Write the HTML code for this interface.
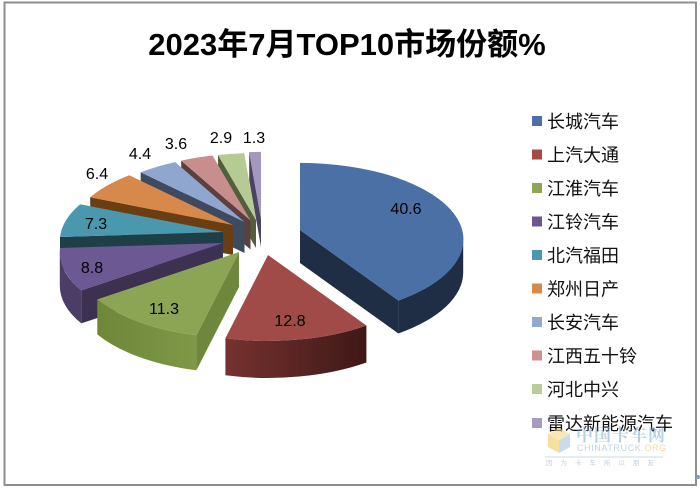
<!DOCTYPE html>
<html>
<head>
<meta charset="utf-8">
<style>
html,body{margin:0;padding:0;background:#fff;}
svg{display:block;}
.lbl{font-family:"Liberation Sans","Noto Sans CJK SC",sans-serif;font-size:16px;fill:#000;text-anchor:middle;}
.leg{font-family:"Liberation Sans","Noto Sans CJK SC",sans-serif;font-size:18px;fill:#111;}
</style>
</head>
<body>
<svg width="700" height="491" viewBox="0 0 700 491" xmlns="http://www.w3.org/2000/svg">
<defs>
<linearGradient id="gRed" x1="0" y1="0" x2="1" y2="0">
<stop offset="0" stop-color="#763230"/><stop offset="1" stop-color="#3E1816"/>
</linearGradient>
<linearGradient id="gGreen" x1="0" y1="0" x2="1" y2="0">
<stop offset="0" stop-color="#6E8739"/><stop offset="1" stop-color="#7E9848"/>
</linearGradient>
</defs>
<rect x="0" y="0" width="700" height="491" fill="#fff"/>
<rect x="4.5" y="2.5" width="691.5" height="482.5" fill="#fff" stroke="#8e8e8e" stroke-width="2"/>

<text x="347" y="55" font-family="'Liberation Sans','Noto Sans CJK SC',sans-serif" font-size="31" font-weight="bold" text-anchor="middle" fill="#000">2023年7月TOP10市场份额%</text>

<!-- lavender -->
<path d="M261,219 L249.2,152.1 L249.2,180.1 L261,247 Z" fill="#4A4361"/>
<path d="M261,219 L249.2,152.1 A163.3 76.5 0 0 1 261,151.9 Z" fill="#A497C0"/>
<!-- light green -->
<path d="M256,220 L218,155 L218,183 L256,248 Z" fill="#525E3C"/>
<path d="M256,220 L218,155 A163.3 76.5 0 0 1 244.2,153.1 Z" fill="#B6CA93"/>
<!-- pink -->
<path d="M250.5,220.5 L181.2,160.6 L181.2,189.6 L250.5,249.5 Z" fill="#5C3F3E"/>
<path d="M250.5,220.5 L181.2,160.6 A163.3 76.5 0 0 1 212.5,155.5 Z" fill="#C88E8D"/>
<!-- light blue -->
<path d="M244.5,222 L140.7,172.3 L140.7,203.3 L244.5,253 Z" fill="#3E4A5F"/>
<path d="M244.5,222 L140.7,172.3 A163.3 76.5 0 0 1 175.2,162.1 Z" fill="#8FA6CF"/>
<!-- orange -->
<path d="M233,225 L90.2,197.3 L90.2,227.3 L233,255 Z" fill="#6B3D13"/>
<path d="M233,225 L90.2,197.3 A163.3 76.5 0 0 1 129.2,175.3 Z" fill="#D6894A"/>
<!-- teal -->
<path d="M223,232 L60,237 L60,269 L223,264 Z" fill="#1F3F48"/>
<path d="M223,232 L60,237 A163.3 76.5 0 0 1 80.2,204.3 Z" fill="#4A98AE"/>
<!-- purple -->
<path d="M81.3,290.4 A163.3 76.5 0 0 1 59.8,252.4 L59.8,285.4 A163.3 76.5 0 0 0 81.3,323.4 Z" fill="#4B3D66"/>
<path d="M223,243 L81.3,290.4 L81.3,323.4 L223,276 Z" fill="#3D3152"/>
<path d="M223,243 L81.3,290.4 A163.3 76.5 0 0 1 60,248 Z" fill="#6C5892"/>
<!-- green -->
<path d="M196.4,335.3 A163.3 76.5 0 0 1 97.3,299.4 L97.3,334.4 A163.3 76.5 0 0 0 196.4,370.3 Z" fill="url(#gGreen)"/>
<path d="M239,252 L196.4,335.3 L196.4,370.3 L239,287 Z" fill="#6F873C"/>
<path d="M239,252 L196.4,335.3 A163.3 76.5 0 0 1 97.3,299.4 Z" fill="#8CA555"/>
<!-- blue -->
<path d="M463.2,239.4 A163.3 76.5 0 0 1 398.4,300.5 L398.4,333.5 A163.3 76.5 0 0 0 463.2,272.4 Z" fill="#1F2D45"/>
<path d="M300,230 L398.4,300.5 L398.4,333.5 L300,263 Z" fill="#1F2D45"/>
<path d="M300,230 L300,162.9 A163.3 76.5 0 0 1 398.4,300.5 Z" fill="#4B70A6"/>
<!-- red -->
<path d="M366.4,325.5 A163.3 76.5 0 0 1 225.4,338.3 L225.4,375.3 A163.3 76.5 0 0 0 366.4,362.5 Z" fill="url(#gRed)"/>
<path d="M268,255 L366.4,325.5 A163.3 76.5 0 0 1 225.4,338.3 Z" fill="#A04B47"/>

<!-- data labels -->
<text class="lbl" x="406" y="214">40.6</text>
<text class="lbl" x="290" y="326">12.8</text>
<text class="lbl" x="164" y="314">11.3</text>
<text class="lbl" x="92" y="273">8.8</text>
<text class="lbl" x="96" y="229">7.3</text>
<text class="lbl" x="97" y="179">6.4</text>
<text class="lbl" x="140" y="159">4.4</text>
<text class="lbl" x="176" y="149">3.6</text>
<text class="lbl" x="221" y="143">2.9</text>
<text class="lbl" x="254" y="143">1.3</text>

<!-- legend -->
<rect x="532" y="116" width="10" height="10" fill="#4B70A6"/>
<text class="leg" x="547" y="127.8">长城汽车</text>
<rect x="532" y="149.5" width="10" height="10" fill="#A64A46"/>
<text class="leg" x="547" y="161.3">上汽大通</text>
<rect x="532" y="183" width="10" height="10" fill="#8DA653"/>
<text class="leg" x="547" y="194.8">江淮汽车</text>
<rect x="532" y="216.5" width="10" height="10" fill="#6B5692"/>
<text class="leg" x="547" y="228.3">江铃汽车</text>
<rect x="532" y="250" width="10" height="10" fill="#4A98AE"/>
<text class="leg" x="547" y="261.8">北汽福田</text>
<rect x="532" y="283.5" width="10" height="10" fill="#D88A46"/>
<text class="leg" x="547" y="295.3">郑州日产</text>
<rect x="532" y="317" width="10" height="10" fill="#93A8CF"/>
<text class="leg" x="547" y="328.8">长安汽车</text>
<rect x="532" y="350.5" width="10" height="10" fill="#CC9190"/>
<text class="leg" x="547" y="362.3">江西五十铃</text>
<rect x="532" y="384" width="10" height="10" fill="#BCCB9A"/>
<text class="leg" x="547" y="395.8">河北中兴</text>
<rect x="532" y="418" width="10" height="10" fill="#A89BC0"/>
<text class="leg" x="547" y="429.8">雷达新能源汽车</text>

<!-- watermark -->
<g opacity="0.55">
<polygon points="548,434 559,428 570,434 559,440" fill="#F2D77A"/>
<polygon points="548,434 559,440 559,453 548,447" fill="#F0C850"/>
<polygon points="559,440 570,434 570,447 559,453" fill="#9CC0E0"/>
<text x="576" y="441" font-family="'Liberation Serif','Noto Serif CJK SC',serif" font-size="17" font-weight="bold" fill="#7FA8D6" letter-spacing="1">中国卡车网</text>
<text x="577" y="451" font-family="'Liberation Sans',sans-serif" font-size="9" fill="#8FB0D2" letter-spacing="0.6">CHINATRUCK<tspan fill="#F0B850">.ORG</tspan></text>
<line x1="545" y1="457" x2="663" y2="457" stroke="#9DB9D6" stroke-width="1"/>
<text x="546" y="465" font-family="'Liberation Sans','Noto Sans CJK SC',sans-serif" font-size="6.5" fill="#8FA8C8" letter-spacing="8">因为卡车所以朋友</text>
</g>
<circle cx="698" cy="477" r="2" fill="#6FA0D8"/>
</svg>
</body>
</html>
